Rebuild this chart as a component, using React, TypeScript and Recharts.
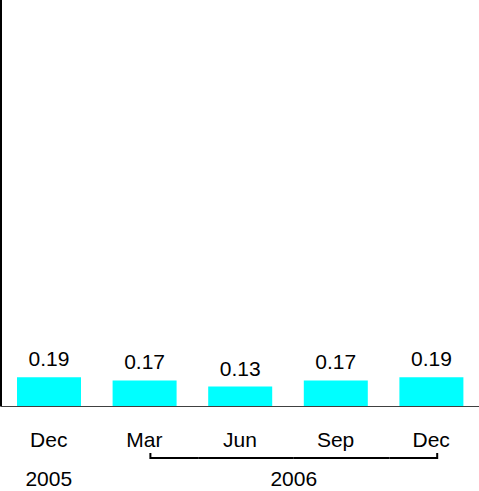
import React from 'react';
import { BarChart, Bar, XAxis, YAxis, LabelList } from 'recharts';

// Quarter-end month labels, their year, and the plotted values
const months = ['Dec', 'Mar', 'Jun', 'Sep', 'Dec'];
const years = ['2005', '2006', '2006', '2006', '2006'];
const values = [0.19, 0.17, 0.13, 0.17, 0.19];

const data = months.map((m, i) => ({ key: `${m}-${years[i]}`, month: m, year: years[i], value: values[i] }));

const FONT = 'Liberation Sans, Arial, sans-serif';
const FONT_SIZE = 21;

// Month label plus the year row; the year is written once per group,
// with a bracket under the months of a year that spans several ticks.
const QuarterTick = (props: any) => {
  const { x, y, index, width, visibleTicksCount } = props;
  const step = width / visibleTicksCount;
  const year = years[index];
  const first = years.indexOf(year);
  const last = years.lastIndexOf(year);
  const count = last - first + 1;
  const bracketY = y + 43.5;
  const shift = 6;
  const yearY = y + 71;
  const parts: React.ReactNode[] = [];
  parts.push(
    <text key="m" x={x} y={y + 32} textAnchor="middle" fontFamily={FONT} fontSize={FONT_SIZE} fill="#000">
      {months[index]}
    </text>
  );
  if (count === 1) {
    parts.push(
      <text key="y" x={x} y={yearY} textAnchor="middle" fontFamily={FONT} fontSize={FONT_SIZE} fill="#000">
        {year}
      </text>
    );
  } else {
    const x0 = index === first ? x + shift : x - step / 2 + shift;
    const x1 = index === last ? x + shift : x + step / 2 + shift;
    parts.push(<line key="b" x1={x0} x2={x1} y1={bracketY} y2={bracketY} stroke="#000" strokeWidth={2} />);
    if (index === first || index === last) {
      const ex = index === first ? x0 : x1;
      parts.push(<line key="e" x1={ex} x2={ex} y1={bracketY - 5} y2={bracketY + 1} stroke="#000" strokeWidth={2} />);
    }
    const mid = first + (count - 1) / 2;
    const isLeftOfMid = count % 2 === 0 && index === Math.floor(mid);
    const isMid = count % 2 === 1 && index === mid;
    if (isLeftOfMid || isMid) {
      const cx = isMid ? x + shift : x + step / 2 + shift;
      parts.push(
        <text key="y" x={cx} y={yearY} textAnchor="middle" fontFamily={FONT} fontSize={FONT_SIZE} fill="#000">
          {year}
        </text>
      );
    }
  }
  return <g>{parts}</g>;
};

const ValueLabel = (props: any) => {
  const { x, y, width, value } = props;
  return (
    <text x={x + width / 2} y={y - 11} textAnchor="middle" fontFamily={FONT} fontSize={FONT_SIZE} fill="#000">
      {value.toFixed(2)}
    </text>
  );
};

export default function App() {
  return (
    <div style={{ position: 'absolute', left: 0, top: 0, background: '#fff' }}>
      <BarChart width={479} height={491} data={data} margin={{ top: 0, right: 0, bottom: 0, left: 0 }}>
        <YAxis
          domain={[0, 2.65]}
          width={1}
          tick={false}
          tickLine={false}
          axisLine={{ stroke: '#000', strokeWidth: 2 }}
        />
        <XAxis
          dataKey="key"
          height={84.5}
          interval={0}
          tickLine={false}
          axisLine={{ stroke: '#404040', strokeWidth: 1 }}
          tick={<QuarterTick />}
        />
        <Bar dataKey="value" fill="#00FFFF" barSize={64} isAnimationActive={false}>
          <LabelList dataKey="value" content={<ValueLabel />} />
        </Bar>
      </BarChart>
    </div>
  );
}
